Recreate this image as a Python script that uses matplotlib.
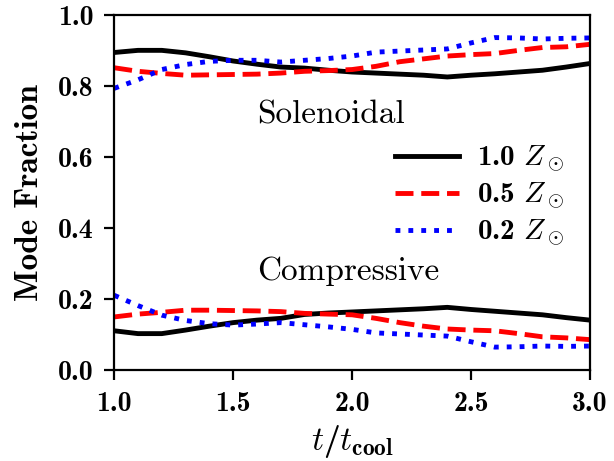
import numpy as np
import matplotlib
matplotlib.use("Agg")
import matplotlib.pyplot as plt

plt.rcParams['font.family'] = 'cmb10'
plt.rcParams['axes.unicode_minus'] = False
plt.rcParams['mathtext.fontset'] = 'custom'
plt.rcParams['mathtext.rm'] = 'cmb10'
plt.rcParams['mathtext.bf'] = 'cmb10'
plt.rcParams['mathtext.it'] = 'cmmi10'
plt.rcParams['mathtext.fallback'] = 'cm'

t = np.round(np.arange(1.0, 3.01, 0.1), 1)

# solenoidal fraction
sol_10 = [0.895, 0.901, 0.901, 0.894, 0.883, 0.871, 0.862, 0.854, 0.851, 0.845, 0.840,
          0.837, 0.834, 0.831, 0.826, 0.831, 0.835, 0.840, 0.845, 0.854, 0.864]
sol_05 = [0.852, 0.842, 0.836, 0.831, 0.832, 0.833, 0.834, 0.837, 0.842, 0.844, 0.847,
          0.856, 0.869, 0.877, 0.885, 0.889, 0.892, 0.901, 0.909, 0.911, 0.918]
sol_02 = [0.794, 0.818, 0.847, 0.861, 0.870, 0.873, 0.873, 0.868, 0.873, 0.878, 0.885,
          0.896, 0.899, 0.902, 0.905, 0.922, 0.937, 0.936, 0.933, 0.935, 0.936]

# compressive fraction
comp_10 = [0.111, 0.103, 0.103, 0.113, 0.124, 0.134, 0.141, 0.146, 0.157, 0.161, 0.164,
           0.167, 0.170, 0.173, 0.177, 0.171, 0.166, 0.161, 0.156, 0.148, 0.141]
comp_05 = [0.150, 0.158, 0.163, 0.169, 0.169, 0.168, 0.167, 0.165, 0.160, 0.158, 0.156,
           0.146, 0.134, 0.124, 0.116, 0.113, 0.111, 0.103, 0.094, 0.091, 0.086]
comp_02 = [0.211, 0.182, 0.155, 0.140, 0.131, 0.127, 0.130, 0.134, 0.128, 0.122, 0.115,
           0.105, 0.102, 0.099, 0.096, 0.080, 0.065, 0.066, 0.068, 0.067, 0.068]

labels = [r'1.0 $Z_\odot$', r'0.5 $Z_\odot$', r'0.2 $Z_\odot$']
colors = ['black', 'red', 'blue']
styles = ['-', '--', ':']

fig = plt.figure(figsize=(6.14, 4.61), dpi=100)
ax = fig.add_axes([0.186, 0.197, 0.775, 0.770])

for sol, comp, lab, c, ls in zip([sol_10, sol_05, sol_02], [comp_10, comp_05, comp_02],
                                 labels, colors, styles):
    ax.plot(t, sol, color=c, ls=ls, lw=3.5, label=lab)
    ax.plot(t, comp, color=c, ls=ls, lw=3.5)

ax.text(1.6, 0.72, 'Solenoidal', family='cmr10', fontsize=24, va='center', ha='left')
ax.text(1.6, 0.28, 'Compressive', family='cmr10', fontsize=24, va='center', ha='left')

ax.set_xlim(1.0, 3.0)
ax.set_ylim(0.0, 1.0)
ax.set_xticks([1.0, 1.5, 2.0, 2.5, 3.0])
ax.set_yticks([0.0, 0.2, 0.4, 0.6, 0.8, 1.0])
ax.tick_params(labelsize=20, length=7, width=1.6, pad=8)
for s in ax.spines.values():
    s.set_linewidth(1.6)
ax.set_xlabel(r'$t/t_{\rm cool}$', fontsize=24, labelpad=4)
ax.set_ylabel('Mode Fraction', fontsize=24, labelpad=10)

ax.legend(loc='center right', bbox_to_anchor=(1.0, 0.49), frameon=False,
          fontsize=21, handlelength=2.2, handletextpad=0.6, labelspacing=0.2)

fig.savefig('out.png', dpi=100)
